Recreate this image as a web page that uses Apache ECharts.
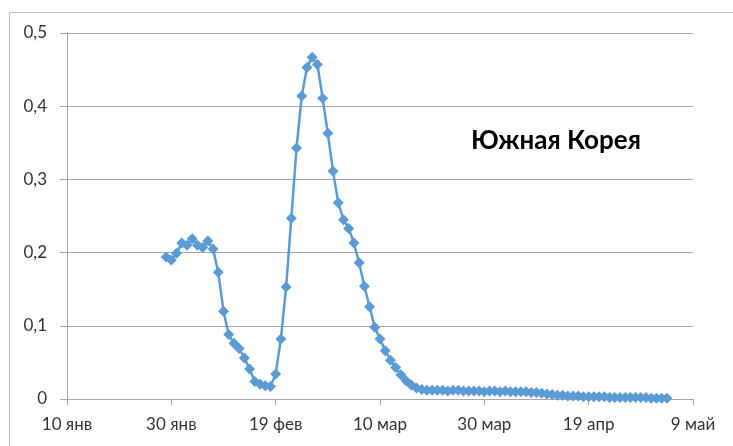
<!DOCTYPE html>
<html>
<head>
<meta charset="utf-8">
<script src="https://cdn.jsdelivr.net/npm/echarts@6/dist/echarts.min.js"></script>
<style>
html,body{margin:0;padding:0;background:#fff;}
#c{width:733px;height:446px;}
</style>
</head>
<body>
<div id="c"></div>
<script>
// Day 0 = 10 янв; first observation = 29 янв (day 19)
const firstDay = 19;
const tickLabels = ['10 янв', '30 янв', '19 фев', '10 мар', '30 мар', '19 апр', '9 май'];
const seriesName = 'Южная Корея';
// daily values from 29 янв to 4 май
const values = [
  0.194, 0.190, 0.199,                                   // 29-31 янв
  0.213, 0.210, 0.219, 0.210, 0.207, 0.216, 0.205, 0.173, // 1-8 фев
  0.120, 0.088, 0.076, 0.069, 0.056, 0.041, 0.024, 0.020, // 9-16 фев
  0.018, 0.017, 0.034, 0.082, 0.153, 0.247, 0.343, 0.414, // 17-24 фев
  0.453, 0.467, 0.457, 0.411, 0.363,                      // 25-29 фев
  0.311, 0.268, 0.245, 0.233, 0.213, 0.186, 0.154, 0.126, // 1-8 мар
  0.098, 0.082, 0.066, 0.053, 0.043, 0.033, 0.025, 0.019, // 9-16 мар
  0.015, 0.013, 0.012, 0.012, 0.012, 0.012, 0.011, 0.012, // 17-24 мар
  0.012, 0.011, 0.011, 0.011, 0.011, 0.010, 0.011,        // 25-31 мар
  0.011, 0.010, 0.011, 0.010, 0.010, 0.010, 0.010, 0.009, // 1-8 апр
  0.009, 0.008, 0.007, 0.006, 0.005, 0.005, 0.004, 0.004, // 9-16 апр
  0.004, 0.003, 0.003, 0.003, 0.003, 0.003, 0.002, 0.002, // 17-24 апр
  0.002, 0.002, 0.002, 0.002, 0.002, 0.002,               // 25-30 апр
  0.001, 0.001, 0.001, 0.001                              // 1-4 май
];
const points = values.map((v, i) => [firstDay + i, v]);

const FONT = 'Lato';
const chart = echarts.init(document.getElementById('c'), null, {renderer: 'canvas'});
chart.setOption({
  animation: false,
  backgroundColor: '#ffffff',
  graphic: [
    {type: 'line', shape: {x1: 9.5, y1: 12.5, x2: 9.5, y2: 446}, style: {stroke: '#bdbdbd', lineWidth: 1}},
    {type: 'line', shape: {x1: 9.5, y1: 12.5, x2: 733, y2: 12.5}, style: {stroke: '#bdbdbd', lineWidth: 1}},
    {type: 'text', left: 471, top: 128, style: {text: seriesName, font: 'bold 26px ' + FONT, fill: '#000'}}
  ],
  grid: {left: 67, right: 40, top: 33, bottom: 47, containLabel: false},
  xAxis: {
    type: 'value', min: 0, max: 120, interval: 20,
    axisLine: {show: true, lineStyle: {color: '#a6a6a6', width: 1}},
    axisTick: {show: true, length: 6, lineStyle: {color: '#a6a6a6'}},
    splitLine: {show: false},
    axisLabel: {
      color: '#333333', fontFamily: FONT, fontSize: 17, margin: 17,
      formatter: v => tickLabels[Math.round(v / 20)] || ''
    }
  },
  yAxis: {
    type: 'value', min: 0, max: 0.5, interval: 0.1,
    axisLine: {show: true, lineStyle: {color: '#a6a6a6', width: 1}},
    axisTick: {show: true, length: 7, lineStyle: {color: '#a6a6a6'}},
    splitLine: {show: true, lineStyle: {color: '#a6a6a6', width: 1}},
    axisLabel: {
      color: '#333333', fontFamily: FONT, fontSize: 17, margin: 20,
      formatter: v => (Math.round(v * 10) / 10).toString().replace('.', ',')
    }
  },
  series: [{
    name: seriesName,
    type: 'line',
    data: points,
    symbol: 'diamond',
    symbolSize: 11,
    showAllSymbol: true,
    lineStyle: {color: '#5b9bd5', width: 2.5},
    itemStyle: {color: '#5b9bd5', borderWidth: 0}
  }]
});
</script>
</body>
</html>
